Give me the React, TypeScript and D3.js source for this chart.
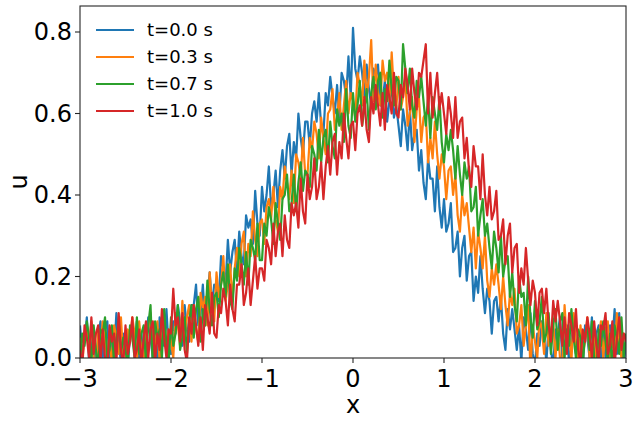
import React from "react";
import * as d3 from "d3";

// sampled profile u(x) at four times, x grid step 0.025 from -3 to 3
const xs = d3.range(241).map((i) => -3 + i * 0.025);

const u0 = [
  0.08, 0.01, 0.04, 0.1, -0.01, 0.02, 0.07, -0.03, 0.05, 0.09,
  0.0, 0.07, 0.09, -0.02, 0.05, 0.01, 0.11, 0.04, -0.01, 0.06,
  0.05, -0.02, 0.06, 0.08, 0.02, 0.09, 0.0, -0.03, 0.07, 0.03,
  0.1, 0.05, 0.0, 0.07, -0.02, 0.1, 0.07, 0.03, 0.12, 0.02,
  0.01, 0.09, 0.06, 0.13, 0.09, 0.03, 0.13, 0.07, 0.04, 0.13,
  0.13, 0.18, 0.08, 0.11, 0.18, 0.08, 0.15, 0.21, 0.13, 0.18,
  0.17, 0.14, 0.25, 0.22, 0.18, 0.29, 0.21, 0.26, 0.29, 0.21,
  0.31, 0.25, 0.23, 0.35, 0.32, 0.34, 0.28, 0.41, 0.33, 0.3,
  0.42, 0.36, 0.4, 0.47, 0.37, 0.4, 0.46, 0.37, 0.46, 0.51,
  0.44, 0.52, 0.55, 0.45, 0.53, 0.49, 0.6, 0.54, 0.5, 0.58,
  0.58, 0.52, 0.6, 0.63, 0.58, 0.65, 0.57, 0.55, 0.65, 0.62,
  0.69, 0.64, 0.6, 0.67, 0.59, 0.7, 0.68, 0.64, 0.74, 0.64,
  0.81, 0.71, 0.68, 0.74, 0.7, 0.64, 0.72, 0.66, 0.62, 0.71,
  0.69, 0.72, 0.62, 0.63, 0.68, 0.58, 0.63, 0.67, 0.59, 0.62,
  0.57, 0.52, 0.61, 0.57, 0.51, 0.61, 0.51, 0.55, 0.56, 0.46,
  0.51, 0.43, 0.39, 0.49, 0.44, 0.44, 0.36, 0.47, 0.37, 0.32,
  0.39, 0.31, 0.33, 0.38, 0.26, 0.27, 0.31, 0.2, 0.27, 0.3,
  0.19, 0.25, 0.26, 0.14, 0.2, 0.16, 0.25, 0.17, 0.11, 0.17,
  0.14, 0.06, 0.14, 0.15, 0.09, 0.15, 0.06, 0.02, 0.12, 0.07,
  0.12, 0.07, 0.02, 0.08, -0.01, 0.1, 0.07, 0.02, 0.11, 0.01,
  -0.02, 0.06, 0.03, 0.09, 0.05, -0.01, 0.08, 0.02, -0.02, 0.07,
  0.06, 0.1, 0.0, 0.02, 0.08, -0.02, 0.04, 0.09, 0.01, 0.05,
  0.02, -0.02, 0.08, 0.05, 0.0, 0.1, 0.01, 0.06, 0.08, -0.01,
  0.07, 0.0, -0.03, 0.08, 0.04, 0.12, 0.01, 0.11, 0.02, -0.02,
  0.04,
];

const u1 = [
  0.05, -0.02, 0.06, 0.08, 0.02, 0.09, 0.0, -0.03, 0.07, 0.03,
  0.09, 0.04, -0.01, 0.06, -0.03, 0.08, 0.05, 0.01, 0.1, 0.0,
  -0.02, 0.07, 0.04, 0.1, 0.06, -0.01, 0.09, 0.03, -0.02, 0.08,
  0.07, 0.11, 0.01, 0.03, 0.09, -0.01, 0.05, 0.1, 0.02, 0.07,
  0.04, 0.0, 0.11, 0.08, 0.03, 0.14, 0.05, 0.1, 0.13, 0.04,
  0.13, 0.07, 0.04, 0.16, 0.12, 0.15, 0.08, 0.21, 0.12, 0.09,
  0.21, 0.15, 0.18, 0.25, 0.14, 0.18, 0.23, 0.14, 0.22, 0.27,
  0.2, 0.28, 0.31, 0.2, 0.28, 0.25, 0.36, 0.29, 0.25, 0.33,
  0.34, 0.28, 0.37, 0.39, 0.34, 0.42, 0.34, 0.31, 0.42, 0.39,
  0.47, 0.43, 0.39, 0.46, 0.38, 0.5, 0.48, 0.44, 0.54, 0.45,
  0.45, 0.54, 0.51, 0.58, 0.55, 0.49, 0.59, 0.54, 0.5, 0.6,
  0.61, 0.66, 0.56, 0.59, 0.65, 0.56, 0.62, 0.68, 0.6, 0.65,
  0.63, 0.59, 0.7, 0.67, 0.62, 0.73, 0.64, 0.69, 0.78, 0.63,
  0.72, 0.65, 0.62, 0.73, 0.68, 0.7, 0.63, 0.75, 0.65, 0.61,
  0.69, 0.61, 0.64, 0.69, 0.57, 0.6, 0.64, 0.53, 0.61, 0.64,
  0.53, 0.59, 0.6, 0.48, 0.54, 0.49, 0.58, 0.5, 0.44, 0.5,
  0.47, 0.39, 0.46, 0.47, 0.4, 0.45, 0.35, 0.31, 0.4, 0.35,
  0.38, 0.32, 0.26, 0.32, 0.22, 0.31, 0.27, 0.22, 0.3, 0.19,
  0.15, 0.22, 0.18, 0.23, 0.18, 0.12, 0.2, 0.13, 0.08, 0.16,
  0.13, 0.17, 0.06, 0.08, 0.13, 0.03, 0.08, 0.13, -0.03, 0.08,
  0.04, 0.0, 0.1, 0.07, 0.01, 0.11, 0.03, 0.07, 0.09, 0.0,
  0.07, 0.0, -0.02, 0.13, 0.04, 0.06, -0.01, 0.11, 0.02, -0.01,
  0.08, 0.01, 0.04, 0.1, 0.0, 0.02, 0.07, -0.02, 0.05, 0.09,
  0.0, 0.07, 0.09, -0.01, 0.05, 0.01, 0.11, 0.04, 0.0, 0.06,
  0.05,
];

const u2 = [
  -0.02, 0.06, 0.03, 0.09, 0.05, -0.01, 0.08, 0.02, -0.02, 0.07,
  0.06, 0.1, 0.0, 0.02, 0.08, -0.02, 0.04, 0.09, 0.01, 0.05,
  0.02, -0.02, 0.08, 0.05, 0.0, 0.1, 0.01, 0.06, 0.08, -0.01,
  0.08, 0.13, -0.02, 0.09, 0.05, 0.07, 0.0, 0.12, 0.03, -0.01,
  0.1, 0.03, 0.06, 0.13, 0.02, 0.05, 0.1, 0.01, 0.09, 0.13,
  0.05, 0.12, 0.15, 0.04, 0.12, 0.08, 0.19, 0.12, 0.08, 0.15,
  0.16, 0.1, 0.18, 0.21, 0.15, 0.23, 0.14, 0.12, 0.22, 0.19,
  0.27, 0.23, 0.18, 0.26, 0.18, 0.29, 0.27, 0.24, 0.33, 0.24,
  0.24, 0.33, 0.3, 0.37, 0.34, 0.28, 0.38, 0.33, 0.29, 0.39,
  0.4, 0.45, 0.36, 0.38, 0.45, 0.36, 0.43, 0.48, 0.41, 0.46,
  0.45, 0.42, 0.52, 0.5, 0.46, 0.56, 0.48, 0.54, 0.56, 0.48,
  0.58, 0.52, 0.49, 0.61, 0.57, 0.6, 0.53, 0.66, 0.57, 0.54,
  0.65, 0.58, 0.62, 0.68, 0.57, 0.61, 0.66, 0.56, 0.65, 0.69,
  0.61, 0.68, 0.7, 0.59, 0.66, 0.63, 0.73, 0.66, 0.62, 0.69,
  0.68, 0.61, 0.77, 0.71, 0.65, 0.71, 0.62, 0.59, 0.68, 0.64,
  0.69, 0.63, 0.57, 0.64, 0.54, 0.64, 0.6, 0.56, 0.64, 0.53,
  0.48, 0.55, 0.51, 0.56, 0.51, 0.44, 0.52, 0.45, 0.4, 0.48,
  0.44, 0.47, 0.36, 0.37, 0.42, 0.3, 0.35, 0.39, 0.3, 0.33,
  0.27, 0.22, 0.31, 0.27, 0.21, 0.3, 0.2, 0.24, 0.25, 0.15,
  0.21, 0.13, 0.09, 0.2, 0.15, 0.16, 0.08, 0.2, 0.1, 0.05,
  0.14, 0.07, 0.09, 0.15, 0.04, 0.06, 0.11, 0.01, 0.08, 0.12,
  0.02, 0.09, 0.11, 0.0, 0.07, 0.03, 0.12, 0.05, 0.0, 0.07,
  0.05, -0.02, 0.06, 0.08, 0.02, 0.09, 0.0, -0.03, 0.07, 0.03,
  0.09, 0.04, -0.01, 0.06, -0.03, 0.08, 0.05, 0.01, 0.1, 0.0,
  0.06,
];

const u3 = [
  0.02, -0.02, 0.08, 0.05, 0.0, 0.1, 0.01, 0.06, 0.08, -0.01,
  0.07, 0.0, -0.03, 0.08, 0.04, 0.06, -0.01, 0.11, 0.02, -0.02,
  0.08, 0.01, 0.04, 0.1, 0.0, 0.02, 0.07, -0.02, 0.05, 0.09,
  0.0, 0.07, 0.09, -0.01, 0.06, 0.02, 0.12, 0.05, 0.0, 0.07,
  0.06, 0.17, 0.08, 0.1, 0.04, 0.11, 0.02, -0.01, 0.1, 0.06,
  0.13, 0.08, 0.03, 0.1, 0.02, 0.13, 0.1, 0.06, 0.16, 0.06,
  0.05, 0.13, 0.11, 0.17, 0.14, 0.08, 0.18, 0.12, 0.09, 0.18,
  0.18, 0.23, 0.13, 0.16, 0.22, 0.13, 0.19, 0.25, 0.17, 0.22,
  0.22, 0.19, 0.29, 0.27, 0.23, 0.33, 0.25, 0.31, 0.33, 0.25,
  0.35, 0.29, 0.27, 0.38, 0.35, 0.38, 0.32, 0.44, 0.36, 0.33,
  0.45, 0.39, 0.42, 0.49, 0.39, 0.42, 0.48, 0.39, 0.47, 0.52,
  0.45, 0.53, 0.55, 0.45, 0.53, 0.49, 0.6, 0.54, 0.49, 0.57,
  0.58, 0.51, 0.6, 0.62, 0.57, 0.64, 0.56, 0.53, 0.64, 0.6,
  0.67, 0.62, 0.57, 0.65, 0.56, 0.67, 0.64, 0.6, 0.7, 0.6,
  0.59, 0.67, 0.64, 0.71, 0.67, 0.61, 0.71, 0.65, 0.61, 0.7,
  0.69, 0.73, 0.77, 0.6, 0.7, 0.59, 0.65, 0.7, 0.61, 0.65,
  0.6, 0.55, 0.64, 0.6, 0.54, 0.64, 0.54, 0.58, 0.59, 0.49,
  0.54, 0.46, 0.42, 0.52, 0.47, 0.47, 0.39, 0.5, 0.4, 0.35,
  0.42, 0.34, 0.36, 0.41, 0.29, 0.3, 0.34, 0.23, 0.3, 0.33,
  0.21, 0.27, 0.28, 0.16, 0.22, 0.18, 0.27, 0.19, 0.13, 0.19,
  0.16, 0.08, 0.16, 0.17, 0.11, 0.17, 0.08, 0.04, 0.14, 0.09,
  0.14, 0.09, 0.03, 0.1, 0.01, 0.11, 0.08, 0.04, 0.12, 0.02,
  -0.01, 0.07, 0.04, 0.1, 0.06, 0.0, 0.09, 0.03, -0.01, 0.08,
  0.07, 0.11, 0.01, 0.03, 0.09, -0.02, 0.05, 0.1, 0.02, 0.06,
  0.04,
];

const labels = ["t=0.0 s", "t=0.3 s", "t=0.7 s", "t=1.0 s"];
const colors = ["#1f77b4", "#ff7f0e", "#2ca02c", "#d62728"];
const series = [u0, u1, u2, u3];
const xTicks = [-3, -2, -1, 0, 1, 2, 3];
const yTicks = [0, 0.2, 0.4, 0.6, 0.8];

const W = 640;
const H = 424;
const left = 80;
const right = 626;
const top = 6;
const bottom = 358;
const font = "DejaVu Sans, sans-serif";

export default function App() {
  const x = d3.scaleLinear().domain([-3, 3]).range([left, right]);
  const y = d3.scaleLinear().domain([0, 0.8638]).range([bottom, top]);

  const line = d3
    .line<number>()
    .x((_, i) => x(xs[i]))
    .y((d) => y(d));

  return (
    <svg
      width={W}
      height={H}
      style={{ position: "absolute", left: 0, top: 0, background: "#fff" }}
      fontFamily={font}
    >
      <defs>
        <clipPath id="plot">
          <rect x={left} y={top} width={right - left} height={bottom - top} />
        </clipPath>
      </defs>

      <g clipPath="url(#plot)">
        {series.map((s, k) => (
          <path
            key={k}
            d={line(s) ?? ""}
            fill="none"
            stroke={colors[k]}
            strokeWidth={2.2}
            strokeLinejoin="round"
          />
        ))}
      </g>

      <rect
        x={left}
        y={top}
        width={right - left}
        height={bottom - top}
        fill="none"
        stroke="#262626"
        strokeWidth={1.1}
      />

      {xTicks.map((t) => (
        <g key={t} transform={`translate(${x(t)},${bottom})`}>
          <line y2={5} stroke="#262626" strokeWidth={1.1} />
          <text y={29} textAnchor="middle" fontSize={24} fill="#000">
            {t < 0 ? `\u2212${-t}` : t}
          </text>
        </g>
      ))}

      {yTicks.map((t) => (
        <g key={t} transform={`translate(${left},${y(t)})`}>
          <line x2={-5} stroke="#262626" strokeWidth={1.1} />
          <text x={-8} dy="0.35em" textAnchor="end" fontSize={24} fill="#000">
            {t.toFixed(1)}
          </text>
        </g>
      ))}

      <text x={(left + right) / 2} y={413} textAnchor="middle" fontSize={24}>
        x
      </text>
      <text
        transform={`translate(27,${(top + bottom) / 2}) rotate(-90)`}
        textAnchor="middle"
        fontSize={24}
      >
        u
      </text>

      {labels.map((l, k) => (
        <g key={l} transform={`translate(96,${30 + k * 27})`}>
          <line x2={38} stroke={colors[k]} strokeWidth={2.2} />
          <text x={51} dy="0.35em" fontSize={18} fill="#000">
            {l}
          </text>
        </g>
      ))}
    </svg>
  );
}
